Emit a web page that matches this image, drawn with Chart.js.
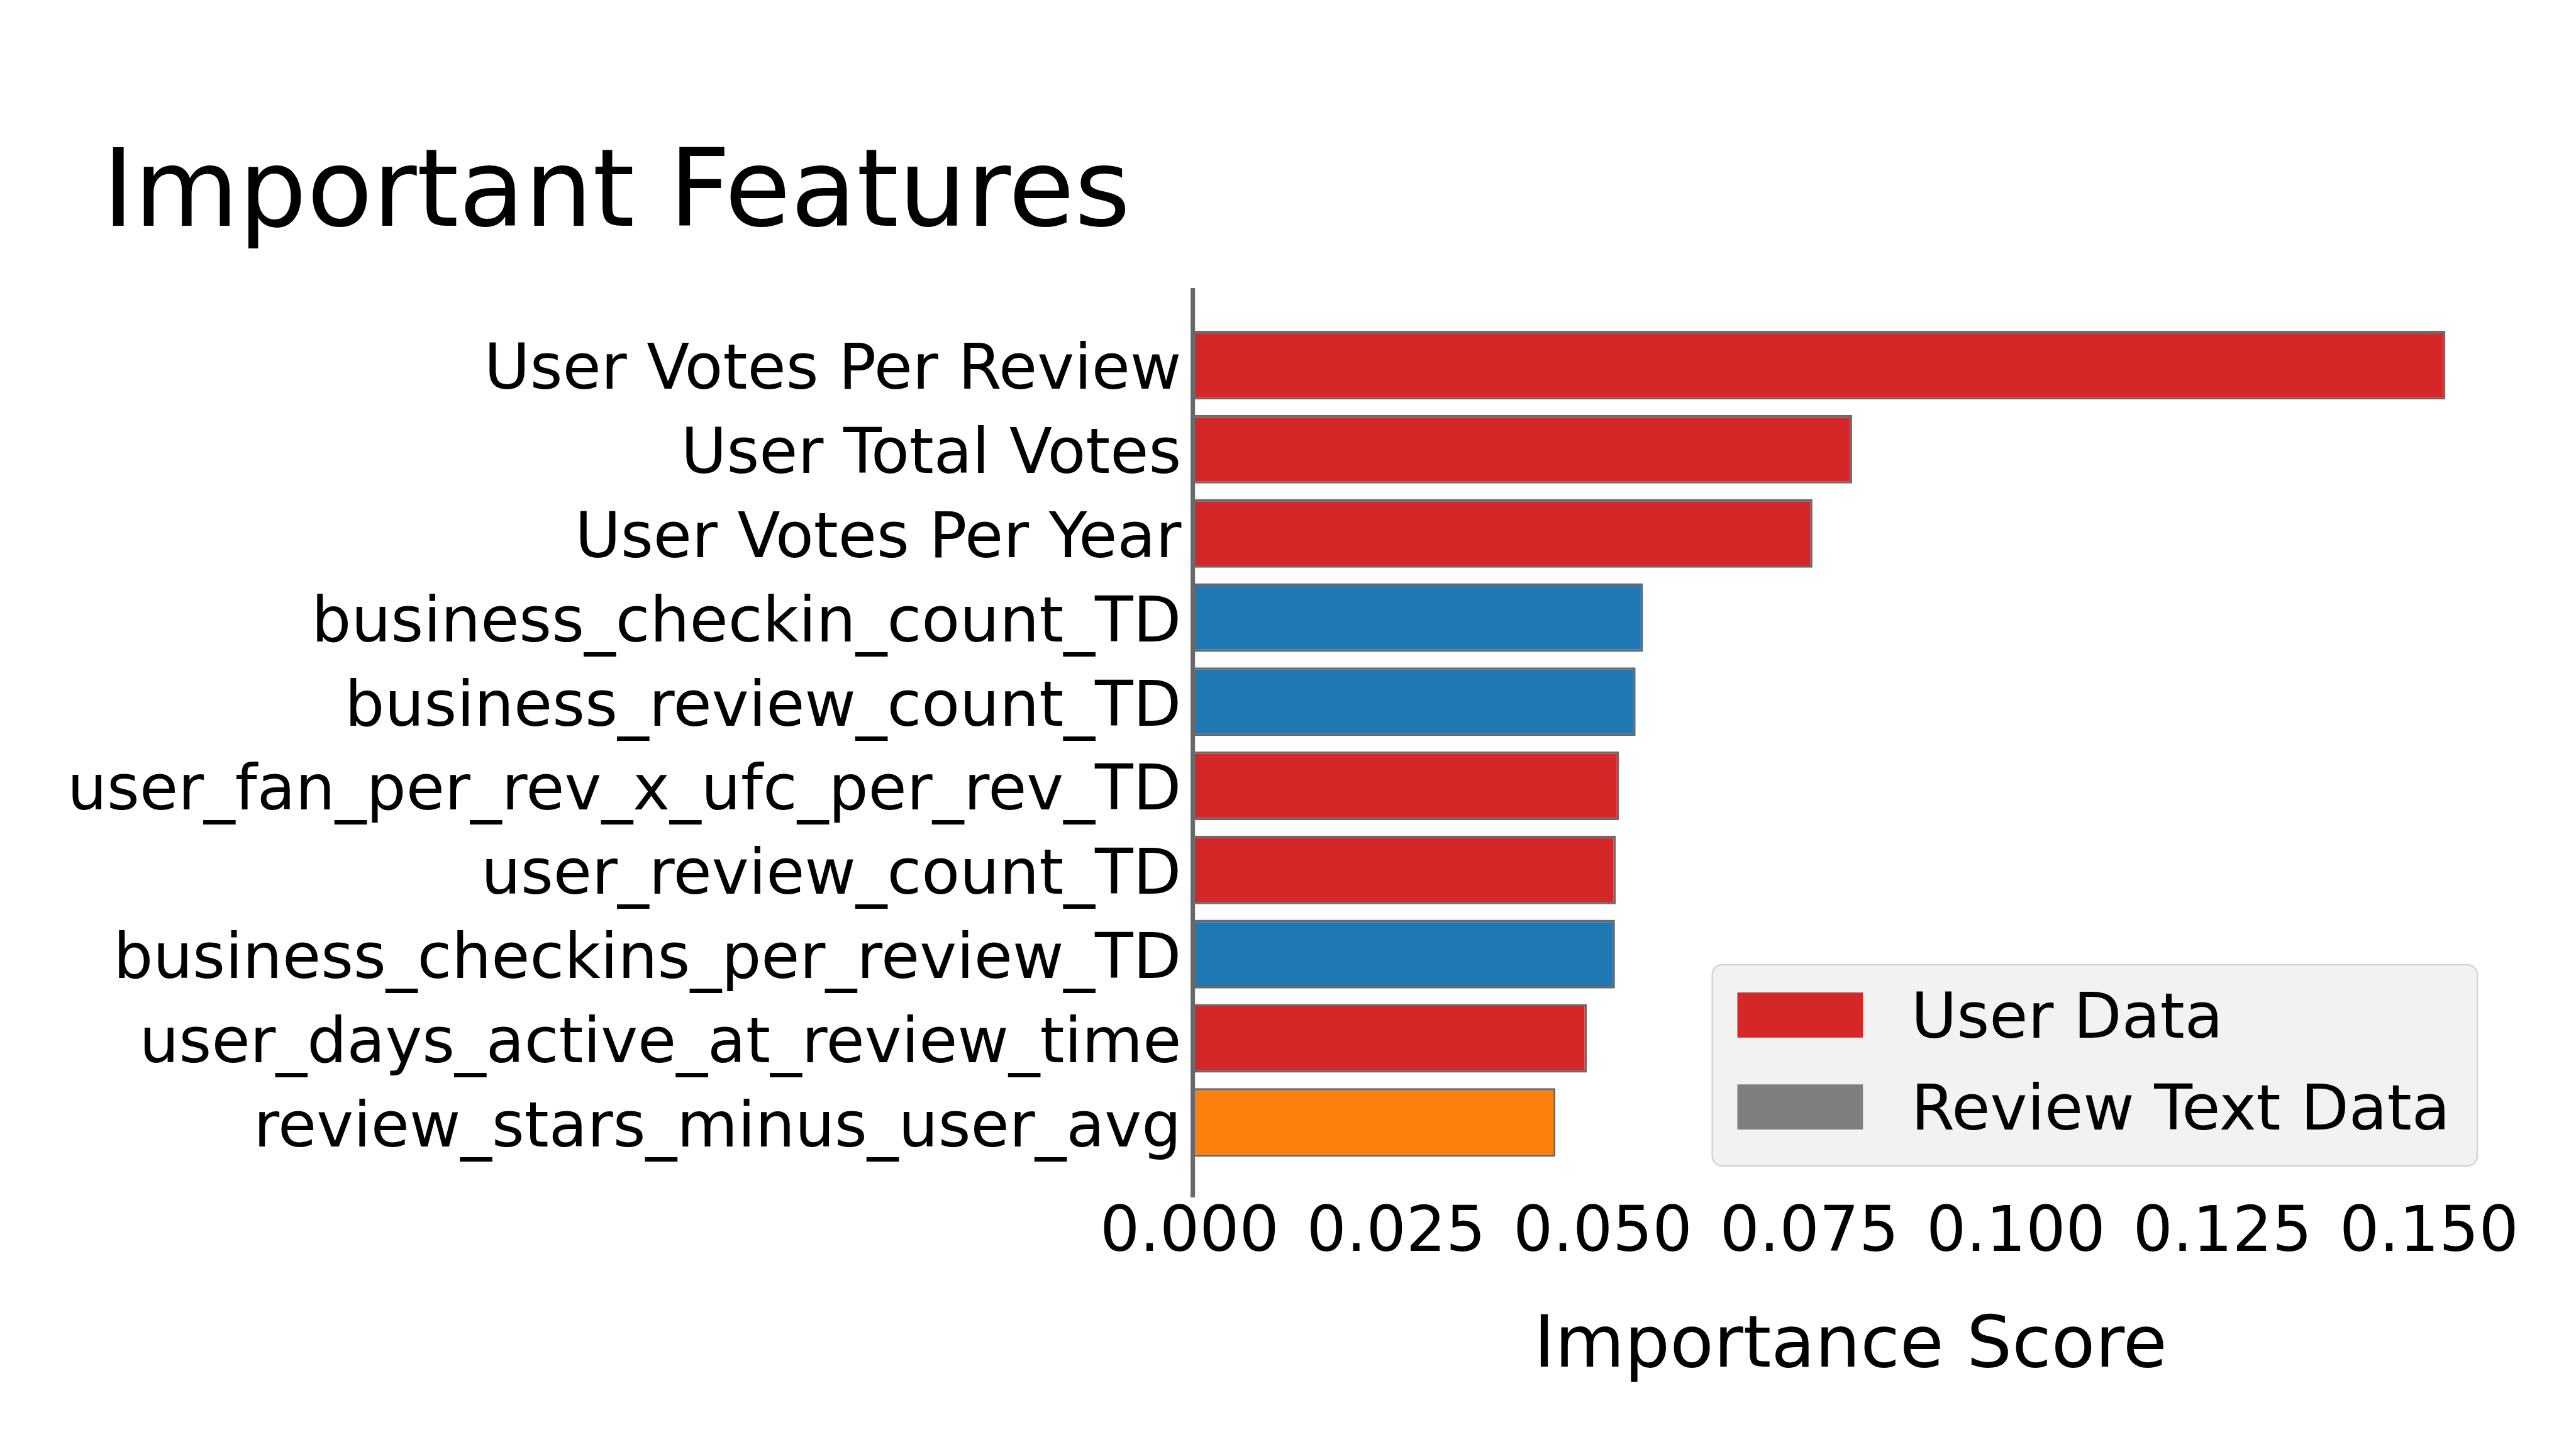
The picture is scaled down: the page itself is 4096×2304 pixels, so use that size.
<!DOCTYPE html>
<html>
<head>
<meta charset="utf-8">
<script src="https://cdn.jsdelivr.net/npm/chart.js@4.4.1/dist/chart.umd.min.js"></script>
<style>
html,body{margin:0;padding:0;background:#ffffff;}
#wrap{width:4096px;height:2304px;position:relative;}
canvas{display:block;}
</style>
</head>
<body>
<div id="wrap"><canvas id="c" width="4096" height="2304" style="width:4096px;height:2304px"></canvas></div>
<script>
// ---- data ----
const categories = [
  'User Votes Per Review',
  'User Total Votes',
  'User Votes Per Year',
  'business_checkin_count_TD',
  'business_review_count_TD',
  'user_fan_per_rev_x_ufc_per_rev_TD',
  'user_review_count_TD',
  'business_checkins_per_review_TD',
  'user_days_active_at_review_time',
  'review_stars_minus_user_avg'
];
const importance = [0.1516, 0.0798, 0.0750, 0.0545, 0.0536, 0.0516, 0.0512, 0.0511, 0.0477, 0.0439];
const groups = ['user','user','user','business','business','user','user','business','user','review'];
const groupColors = {user:'#d62728', business:'#1f77b4', review:'#ff7f0e'};
const xTickValues = [0, 0.025, 0.05, 0.075, 0.1, 0.125, 0.15];
const xTickLabels = ['0.000','0.025','0.050','0.075','0.100','0.125','0.150'];
const legendLabels = ['User Data', 'Review Text Data'];
const legendColors = ['#d62728', '#7f7f7f'];

const FONT = 'DejaVu Sans';
Chart.defaults.font.family = FONT;
Chart.defaults.color = '#000000';

const titleShift = {
  id: 'titleShift',
  afterLayout(chart) {
    if (chart.titleBlock) chart.titleBlock.left = 163;
  }
};

const boxLegend = {
  id: 'boxLegend',
  afterDraw(chart) {
    const ctx = chart.ctx;
    const f = 99.5;
    ctx.save();
    const x0 = 2722.7, y0 = 1534, x1 = 3939, y1 = 1854;
    ctx.beginPath();
    ctx.roundRect(x0, y0, x1 - x0, y1 - y0, 16);
    ctx.fillStyle = '#f2f2f2';
    ctx.fill();
    ctx.lineWidth = 2.5;
    ctx.strokeStyle = '#d4d4d4';
    ctx.stroke();
    ctx.font = f + 'px "' + FONT + '"';
    ctx.textAlign = 'left';
    ctx.textBaseline = 'alphabetic';
    legendLabels.forEach((lab, i) => {
      const hy = 1578.1 + i * 146.2;
      ctx.fillStyle = legendColors[i];
      ctx.fillRect(2762.5, hy, 199.7, 71.7);
      ctx.fillStyle = '#000000';
      ctx.fillText(lab, 3038.7, hy + 35.85 + 0.3645 * f);
    });
    ctx.restore();
  }
};

new Chart(document.getElementById('c'), {
  type: 'bar',
  data: {
    datasets: [{
      data: importance.map((v, i) => ({x: v, y: i})),
      backgroundColor: groups.map(g => groupColors[g]),
      borderColor: '#696969',
      borderWidth: 3.6,
      borderSkipped: false,
      barPercentage: 1,
      categoryPercentage: 0.815
    }]
  },
  options: {
    indexAxis: 'y',
    responsive: false,
    devicePixelRatio: 1,
    animation: false,
    layout: {padding: {top: 0, left: 0, right: 108, bottom: 0}},
    plugins: {
      legend: {display: false},
      tooltip: {enabled: false},
      title: {
        display: true,
        text: 'Important Features',
        align: 'start',
        color: '#000000',
        font: {family: FONT, size: 170.7, weight: 'normal'},
        padding: {top: 212.7, bottom: 43.9}
      }
    },
    scales: {
      y: {
        type: 'linear',
        reverse: true,
        min: -0.89,
        max: 9.89,
        offset: false,
        afterBuildTicks: ax => { ax.ticks = categories.map((_, i) => ({value: i})); },
        ticks: {
          autoSkip: false,
          padding: 18,
          labelOffset: 12,
          color: '#000000',
          font: {family: FONT, size: 99.5},
          callback: v => categories[v]
        },
        grid: {display: false, drawTicks: false},
        border: {display: true, color: '#696969', width: 7.2, z: 1},
        afterFit: s => { s.width = 1896.4; }
      },
      x: {
        type: 'linear',
        position: 'bottom',
        min: 0,
        max: 0.15918,
        afterBuildTicks: ax => { ax.ticks = xTickValues.map(v => ({value: v})); },
        ticks: {
          autoSkip: false,
          maxRotation: 0,
          minRotation: 0,
          padding: 9.6,
          labelOffset: -5,
          color: '#000000',
          font: {family: FONT, size: 99.5, lineHeight: 1},
          callback: (v, i) => xTickLabels[i]
        },
        grid: {display: false, drawTicks: false},
        border: {display: false},
        title: {
          display: true,
          text: 'Importance Score',
          color: '#000000',
          font: {family: FONT, size: 113.8},
          padding: {top: 0, bottom: 92.7}
        },
        afterFit: s => { s.height = 400.2; }
      }
    }
  },
  plugins: [titleShift, boxLegend]
});
</script>
</body>
</html>
